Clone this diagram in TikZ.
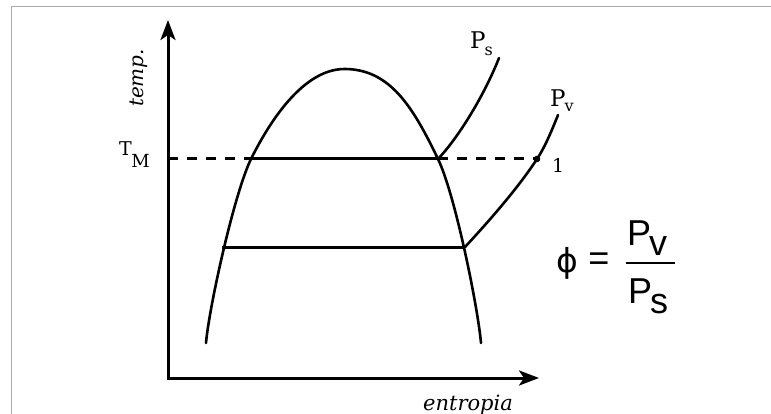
\documentclass[tikz,border=0pt]{standalone}
\usepackage{fontspec}
\newfontfamily\arialf{Liberation Sans}
\newfontfamily\dejavu{DejaVu Sans}
\newfontfamily\dvserif{DejaVu Serif}
\usetikzlibrary{arrows.meta}
\begin{document}
\begin{tikzpicture}[x=1pt,y=-1pt,
  curve/.style={line width=2.6pt,line cap=round,line join=round},
  hline/.style={line width=3pt},
  dashline/.style={line width=3pt,dash pattern=on 10pt off 9pt},
  axis/.style={line width=3pt,-{Stealth[length=20pt,width=15pt,inset=5pt]}},
  lbl/.style={inner sep=0pt},
  frame/.style={draw=black!33,line width=1.5pt}]
\useasboundingbox (0,0) rectangle (771,414);
\fill[white] (0,0) rectangle (771,414);
\draw[frame] (11.5,414) -- (11.5,6.5) -- (771,6.5);

% axes
\coordinate (O) at (168,378);
\coordinate (ytip) at (168,20);
\coordinate (xtip) at (539,378);
\draw[axis] (168,379.5) -- (ytip);
\draw[axis] (166.5,378) -- (xtip);

% key points
\coordinate (TMy) at (168,159);
\coordinate (A) at (251,159);
\coordinate (B) at (438,159);
\coordinate (C) at (222,247);
\coordinate (D) at (465,247);
\coordinate (E) at (537,159);
\coordinate (top) at (344.5,69);
\coordinate (L0) at (206,343);
\coordinate (R0) at (481,343);

% dome
\draw[curve] (L0) .. controls (209,308) and (234,194) .. (A)
  .. controls (264,133) and (299,69) .. (top)
  .. controls (390,69) and (413,107) .. (B)
  .. controls (455,194) and (478,308) .. (R0);

% horizontal lines
\draw[dashline] (TMy) -- (A);
\draw[hline] (A) -- (B);
\draw[dashline] (B) -- (E);
\draw[hline] (C) -- (D);

% Ps and Pv curves
\coordinate (PsEnd) at (499,58);
\coordinate (PvEnd) at (558,115);
\draw[curve] (B) .. controls (458,138) and (484,96) .. (PsEnd);
\draw[curve] (D) .. controls (490,220) and (518,188) .. (E)
  .. controls (545,147) and (552,130) .. (PvEnd);
\fill (E) circle (3.3pt);

% labels
\node[lbl,anchor=base west,font=\dvserif\fontsize{19}{22}\selectfont] (TM) at (119,156) {T\kern-0.5pt\raisebox{-12pt}{\fontsize{18}{21}\selectfont M}};
\node[lbl,anchor=base west,font=\dvserif\fontsize{23}{26}\selectfont] (Ps) at (470,49) {P\kern-1pt\raisebox{-7pt}{\fontsize{16}{18}\selectfont s}};
\node[lbl,anchor=base west,font=\dvserif\fontsize{23}{26}\selectfont] (Pv) at (550,107) {P\kern-1pt\raisebox{-5pt}{\fontsize{16}{18}\selectfont v}};
\node[lbl,anchor=base west,font=\dvserif\fontsize{19}{22}\selectfont] (one) at (552,173) {1};
\node[lbl,rotate=90,font=\dvserif\itshape\fontsize{20}{24}\selectfont] (temp) at (139,78) {temp.};
\node[lbl,anchor=base,font=\dvserif\itshape\fontsize{21}{25}\selectfont] (ent) at (468,410) {entropia};

% formula
\node[lbl,font=\dejavu\fontsize{33}{36}\selectfont] (phi) at (567,263) {ϕ};
\node[lbl,font=\arialf\fontsize{36}{40}\selectfont] (eq) at (599,262) {=};
\node[lbl,anchor=base west,font=\arialf\fontsize{36}{40}\selectfont] (num) at (627,245) {P\kern-2pt\raisebox{-10pt}{v}};
\node[lbl,anchor=base west,font=\arialf\fontsize{36}{40}\selectfont] (den) at (628,303) {P\kern-2pt\raisebox{-10pt}{s}};
\coordinate (barL) at (626,263);
\coordinate (barR) at (675,263);
\draw[line width=2pt] (barL) -- (barR);
\end{tikzpicture}
\end{document}
